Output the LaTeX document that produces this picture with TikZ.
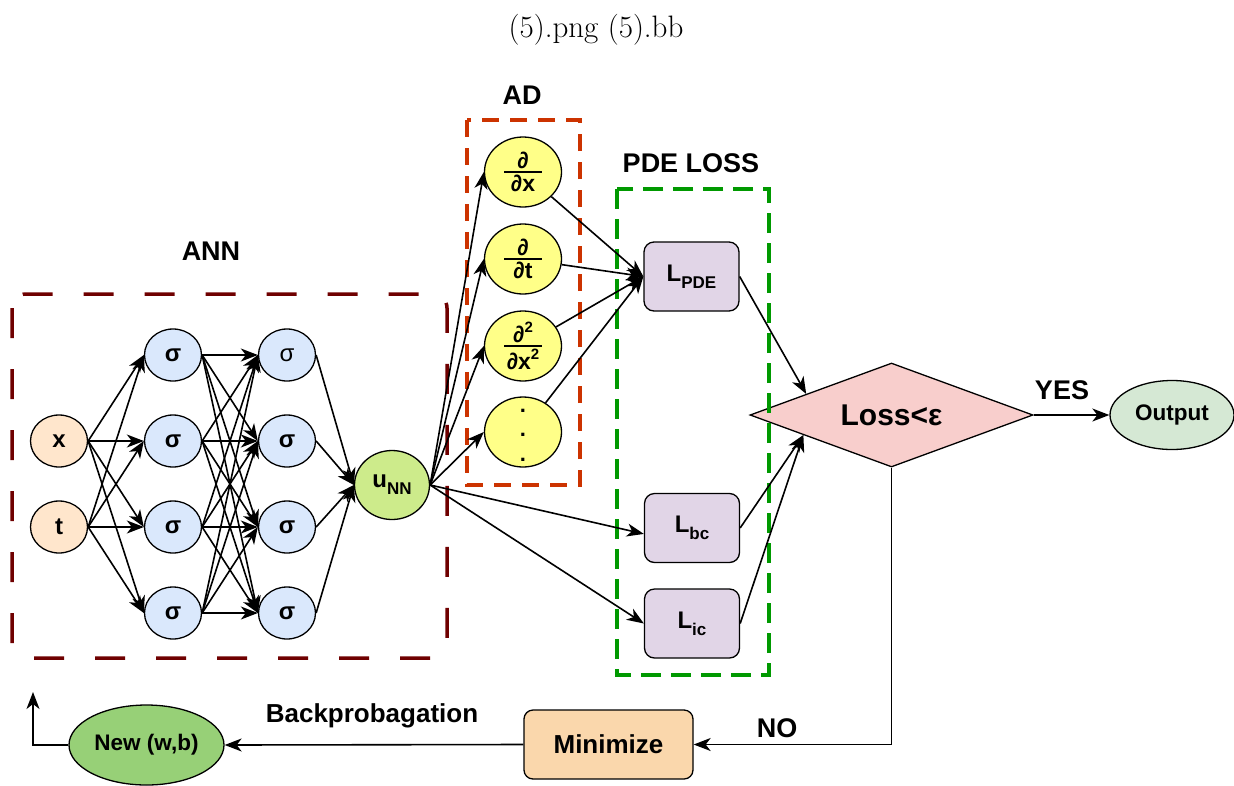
\documentclass[tikz,border=0pt]{standalone}
\usepackage{fontspec}
\newfontfamily\af{Liberation Sans}
\usetikzlibrary{shapes.geometric,arrows.meta,calc}
\definecolor{cIn}{HTML}{FFE6CC}
\definecolor{cSig}{HTML}{DAE8FC}
\definecolor{cU}{HTML}{CDEB8B}
\definecolor{cYel}{HTML}{FFFF88}
\definecolor{cL}{HTML}{E1D5E7}
\definecolor{cLoss}{HTML}{F8CECC}
\definecolor{cOut}{HTML}{D5E8D4}
\definecolor{cMin}{HTML}{FAD7AC}
\definecolor{cNew}{HTML}{97D077}
\definecolor{cAnn}{HTML}{6F0000}
\definecolor{cAD}{HTML}{CC3300}
\definecolor{cPde}{HTML}{009900}
\newcommand{\subt}[1]{\raisebox{-0.3em}{\fontsize{17}{17}\selectfont #1}}
\newcommand{\supt}[1]{\raisebox{0.45em}{\fontsize{15}{15}\selectfont #1}}
\newcommand{\wfrac}[2]{$\hbox to 38pt{\hss #1\hss}\above 1.8pt\hbox to 38pt{\hss #2\hss}$}
\begin{document}
\begin{tikzpicture}[x=1pt,y=-1pt,
  arr/.style={line width=1.6pt,-{Stealth[length=17pt,width=13pt,inset=5pt]}},
  neuron/.style={ellipse,draw,line width=1.3pt,minimum width=57pt,minimum height=52pt,inner sep=0pt,font={\af\bfseries\fontsize{24}{24}\selectfont}},
  yel/.style={ellipse,draw,line width=1.3pt,fill=cYel,minimum width=77pt,minimum height=70pt,inner sep=0pt,font={\af\bfseries\fontsize{23}{24}\selectfont}},
  lbox/.style={rectangle,rounded corners=10pt,draw,line width=1.3pt,fill=cL,minimum width=95pt,minimum height=69pt,inner sep=0pt,font={\af\bfseries\fontsize{24}{24}\selectfont}},
  lbl/.style={font={\af\bfseries\fontsize{27}{30}\selectfont}},
  annbox/.style={draw=cAnn,line width=3.5pt,dash pattern=on 30pt off 31pt,rounded corners=14pt},
  adbox/.style={draw=cAD,line width=4pt,dash pattern=on 17pt off 11pt},
  pdebox/.style={draw=cPde,line width=4.5pt,dash pattern=on 20pt off 10pt}]
\useasboundingbox (0,0) rectangle (1234,785);
% title
\node[font=\fontsize{31}{37}\selectfont] (title) at (596,30) {(5).png (5).bb};
% labels
\node[lbl] (lann) at (211,251) {ANN};
\node[lbl] (lad) at (522,95) {AD};
\node[lbl] (lpdel) at (691,163) {PDE LOSS};
\node[lbl] (lyes) at (1062,390) {YES};
\node[lbl] (lno) at (777,728) {NO};
\node[font={\af\bfseries\fontsize{26}{30}\selectfont}] (lbp) at (372,716) {Backprobagation};
% ANN nodes
\node[neuron,fill=cIn] (in1) at (59,441) {x};
\node[neuron,fill=cIn] (in2) at (59,527) {t};
\foreach \i/\y in {1/355,2/441,3/527,4/613}{
  \node[neuron,fill=cSig] (h1\i) at (173,\y) {σ};
}
\node[neuron,fill=cSig,font={\af\fontsize{24}{24}\selectfont}] (h21) at (287,355) {σ};
\node[neuron,fill=cSig] (h22) at (287,441) {σ};
\node[neuron,fill=cSig] (h23) at (287,527) {σ};
\node[neuron,fill=cSig] (h24) at (287,613) {σ};
\node[neuron,fill=cU,minimum width=75pt,minimum height=69pt] (u) at (392,485) {u\subt{NN}};
% AD nodes
\node[yel] (a1) at (523,172) {\wfrac{∂}{∂x}};
\node[yel] (a2) at (523,259) {\wfrac{∂}{∂t}};
\node[yel] (a3) at (523,346) {\wfrac{∂\supt{2}}{∂x\supt{2}}};
\node[yel,font={\af\bfseries\fontsize{22}{24.5}\selectfont}] (a4) at (523,432) {\raisebox{-5pt}[0pt][0pt]{\begin{tabular}{@{}c@{}}.\\.\\.\end{tabular}}};
% loss nodes
\node[lbox] (lpde) at (691.5,276.5) {L\subt{PDE}};
\node[lbox] (lbc) at (692,528) {L\subt{bc}};
\node[lbox] (lic) at (692,623.5) {L\subt{ic}};
\node[diamond,draw,line width=1.3pt,fill=cLoss,minimum width=283pt,minimum height=104pt,inner sep=0pt,aspect=2.7,font={\af\bfseries\fontsize{30}{30}\selectfont}] (d) at (891.5,415) {Loss<ε};
\node[ellipse,draw,line width=1.3pt,fill=cOut,minimum width=124pt,minimum height=69pt,inner sep=0pt,font={\af\bfseries\fontsize{22.5}{24}\selectfont}] (out) at (1172,415) {Output};
\node[rectangle,rounded corners=9pt,draw,line width=1.3pt,fill=cMin,minimum width=169pt,minimum height=69pt,inner sep=0pt,font={\af\bfseries\fontsize{26}{28}\selectfont}] (mini) at (608.5,744.5) {Minimize};
\node[ellipse,draw,line width=1.3pt,fill=cNew,minimum width=155pt,minimum height=80pt,inner sep=0pt,font={\af\bfseries\fontsize{22.5}{24}\selectfont}] (new) at (146.5,745) {New (w,b)};
\coordinate (back) at (33,692);
% dashed group boxes
\draw[annbox] (12,294) rectangle (447,658);
\draw[adbox] (467,120) rectangle (580,485);
\draw[pdebox] (617,189) rectangle (769,675);
% ANN connectors
\foreach \s in {in1,in2}{\foreach \j in {1,2,3,4}{\draw[arr] (\s.east) -- (h1\j.west);}}
\foreach \i in {1,2,3,4}{\foreach \j in {1,2,3,4}{\draw[arr] (h1\i.east) -- (h2\j.west);}}
\foreach \i in {1,2,3,4}{\draw[arr] (h2\i.east) -- (u.west);}
% u to AD and losses
\foreach \a in {a1,a2,a3,a4}{\draw[arr] (u.east) -- (\a.west);}
\draw[arr] (u.east) -- (lbc.187);
\draw[arr] (u.east) -- (lic.west);
\foreach \a in {a1,a2,a3,a4}{\draw[arr] (\a) -- (lpde.west);}
\draw[arr] (lpde.east) -- ($(d.west)!0.4!(d.north)$);
\draw[arr] (lbc.east) -- ($(d.west)!0.38!(d.south)$);
\draw[arr] (lic.east) -- ($(d.west)!0.38!(d.south)$);
\draw[arr] (d.east) -- (out.west);
\draw[arr] (d.south) |- (mini.east);
\draw[arr] (mini.west) -- (new.east);
\draw[arr] (new.west) -| (back);
\end{tikzpicture}
\end{document}
